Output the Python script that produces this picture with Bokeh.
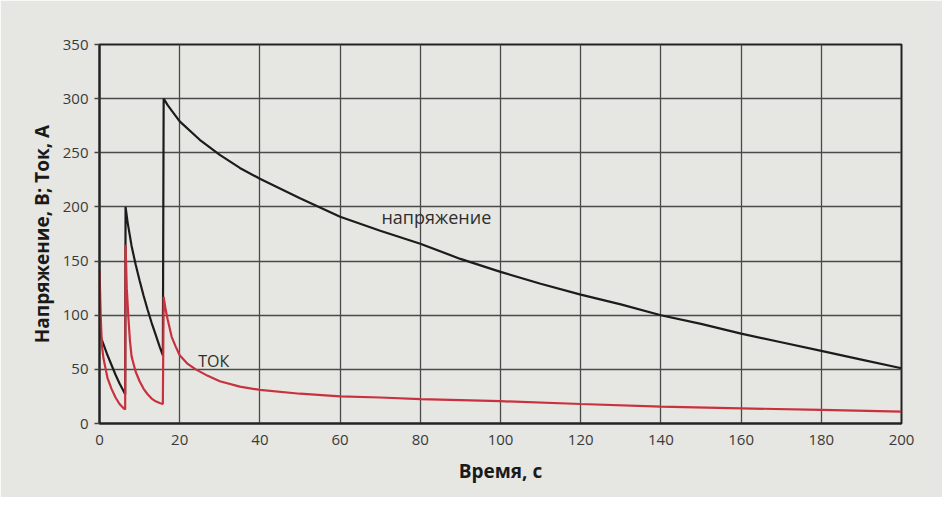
from bokeh.plotting import figure
from bokeh.models import Range1d, Label, SingleIntervalTicker
from bokeh.embed import file_html
from bokeh.resources import INLINE

# Data
volt_t = [0, 0.3, 1, 2, 3, 4, 5, 6, 6.4, 6.5, 7, 8, 9, 10, 11, 12, 13, 14, 15, 15.8,
          16, 16.5, 17, 18, 20, 25, 30, 35, 40, 50, 60, 70, 80, 90, 100, 110, 120, 130,
          140, 150, 160, 170, 180, 190, 200]
volt_v = [88, 80, 73, 63, 54, 45, 37, 30, 27, 200, 186, 164, 147, 132, 118, 105, 93, 82, 71, 63,
          300, 297, 294, 289, 279, 262, 248, 236, 226, 208, 191, 178, 166, 152, 140, 129, 119, 110,
          100, 92, 83, 75, 67, 59, 51]

curr_t = [0, 0.3, 0.6, 1, 2, 3, 4, 5, 6, 6.4, 6.5, 6.8, 7.2, 7.6, 8, 9, 10, 11, 12, 13, 14,
          15, 15.8, 16, 16.5, 17, 18, 19, 20, 22, 24, 27, 30, 35, 40, 50, 60, 70, 80, 100,
          120, 140, 160, 180, 200]
curr_v = [142, 100, 72, 60, 42, 32, 24, 18, 14, 13, 165, 125, 98, 76, 62, 48, 39, 32, 27, 23, 20.5,
          19, 18, 117, 105, 96, 80, 71, 63, 55, 50, 44, 39, 34, 31, 27.5, 25, 24, 22.5, 20.6,
          18, 15.5, 14, 12.5, 11]

x_title = "Время, с"
y_title = "Напряжение, В; Ток, А"
volt_label = "напряжение"
curr_label = "ТОК"

BG = "#e6e6e2"
FONT = "Open Sans"

p = figure(width=942, height=497, output_backend="svg", toolbar_location=None,
           x_range=Range1d(0, 200), y_range=Range1d(0, 350),
           min_border_left=99, min_border_right=41, min_border_top=44, min_border_bottom=74,
           background_fill_color=BG, border_fill_color=BG)

p.outline_line_color = "#222222"
p.outline_line_width = 2

p.xaxis.ticker = SingleIntervalTicker(interval=20)
p.yaxis.ticker = SingleIntervalTicker(interval=50)

for ax in (p.xaxis[0], p.yaxis[0]):
    ax.axis_line_color = "#222222"
    ax.axis_line_width = 2
    ax.major_tick_line_color = "#444444"
    ax.major_tick_line_width = 1.3
    ax.minor_tick_line_color = None
    ax.major_label_text_font = FONT
    ax.major_label_text_font_size = "15px"
    ax.major_label_text_color = "#3a3a3a"
    ax.axis_label_text_font = FONT
    ax.axis_label_text_font_style = "bold"
    ax.axis_label_text_font_size = "19px"
    ax.axis_label_text_color = "#1a1a1a"

p.xaxis.major_tick_in = 0
p.xaxis.major_tick_out = 0
p.xaxis.major_label_standoff = 7
p.yaxis.major_tick_in = 0
p.yaxis.major_tick_out = 5
p.yaxis.major_label_standoff = 6

p.xaxis.axis_label = x_title
p.xaxis.axis_label_standoff = 10
p.yaxis.axis_label = y_title
p.yaxis.axis_label_standoff = 5

p.xgrid.grid_line_color = "#4a4a4a"
p.ygrid.grid_line_color = "#4a4a4a"
p.xgrid.grid_line_width = 1.3
p.ygrid.grid_line_width = 1.3

p.line(volt_t, volt_v, line_color="#1c1c1c", line_width=2.2)
p.line(curr_t, curr_v, line_color="#c8323e", line_width=2.2)

p.add_layout(Label(x=84, y=191, text=volt_label, text_font=FONT, text_font_size="18px",
                   text_color="#2e2e2e", text_align="center", text_baseline="middle"))
p.add_layout(Label(x=28.5, y=58, text=curr_label, text_font=FONT, text_font_size="16px",
                   text_color="#2e2e2e", text_align="center", text_baseline="middle"))

open("out.html", "w").write(file_html(p, INLINE))
